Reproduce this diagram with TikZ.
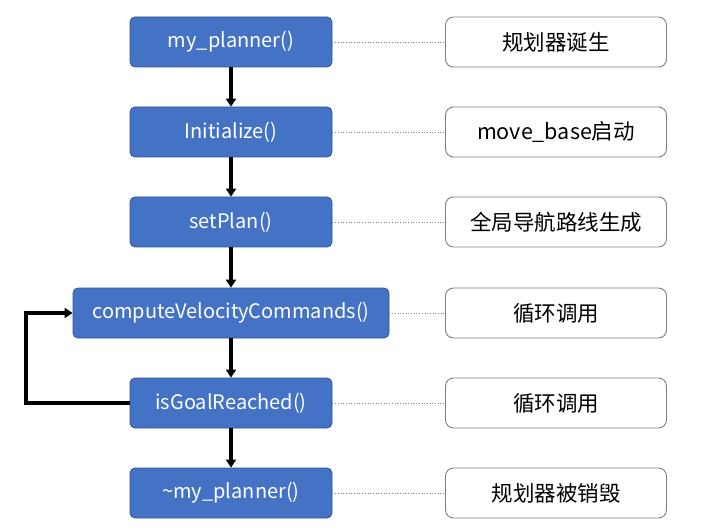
\documentclass[tikz,border=0pt]{standalone}
\usepackage{fontspec}
\setmainfont{Noto Sans CJK SC}
\usetikzlibrary{arrows.meta}
\definecolor{fnblue}{HTML}{4472C4}
\definecolor{fnedge}{HTML}{2F5597}
\definecolor{notegray}{HTML}{7F7F7F}
\begin{document}
\begin{tikzpicture}[x=1pt,y=-1pt,
  fn/.style={draw=fnedge,fill=fnblue,text=white,rounded corners=5pt,minimum width=202pt,minimum height=50pt,font=\fontsize{20}{24}\selectfont,line width=0.8pt},
  note/.style={draw=notegray,fill=white,rounded corners=8pt,minimum width=221pt,minimum height=50pt,font=\fontsize{21.5}{25}\selectfont,line width=0.9pt},
  link/.style={draw=gray,dotted,line width=0.7pt},
  flow/.style={draw=black,line width=3.2pt,-{Triangle[length=8pt,width=10pt]}}]
\useasboundingbox (0,0) rectangle (713,532);
% function boxes
\node[fn] (f1) at (231,42) {my\_planner()};
\node[fn] (f2) at (231,132) {Initialize()};
\node[fn] (f3) at (231,222) {setPlan()};
\node[fn,minimum width=316pt] (f4) at (231,313) {computeVelocityCommands()};
\node[fn] (f5) at (231,403) {isGoalReached()};
\node[fn] (f6) at (231,493) {\textasciitilde my\_planner()};
% notes
\node[note] (n1) at (556,42) {规划器诞生};
\node[note] (n2) at (556,132) {move\_base启动};
\node[note] (n3) at (556,222) {全局导航路线生成};
\node[note] (n4) at (556,313) {循环调用};
\node[note] (n5) at (556,403) {循环调用};
\node[note] (n6) at (556,493) {规划器被销毁};
\foreach \i in {1,...,6}
  \draw[link] (f\i.east) -- (n\i.west);
% flow
\draw[flow] (f1) -- (f2);
\draw[flow] (f2) -- (f3);
\draw[flow] (f3) -- (f4);
\draw[flow] (f4) -- (f5);
\draw[flow] (f5) -- (f6);
\coordinate (back) at (26,0);
\draw[flow] (f5.west) -- (f5.west -| back) -- (f4.west -| back) -- (f4.west);
\end{tikzpicture}
\end{document}
